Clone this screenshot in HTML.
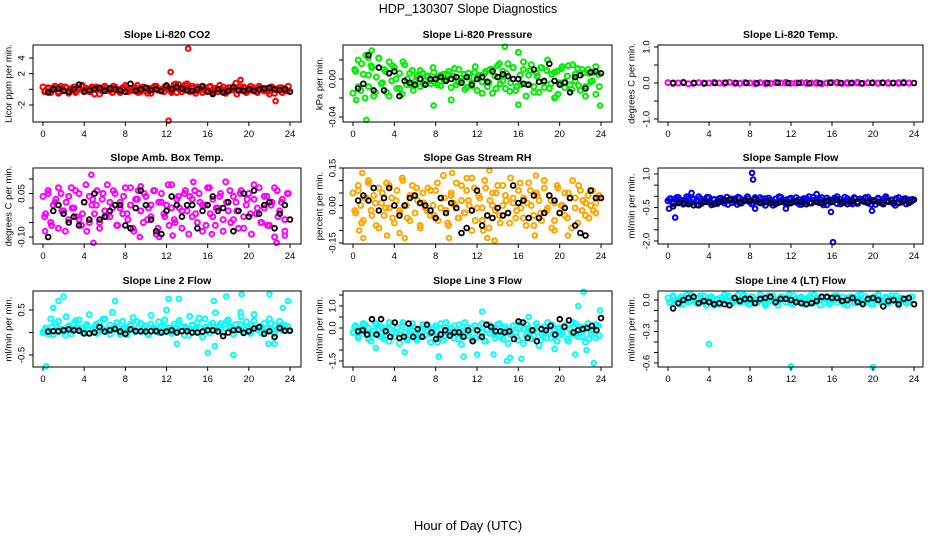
<!DOCTYPE html>
<html><head><meta charset="utf-8">
<style>
html,body{margin:0;padding:0;background:#fff;}
svg{display:block;font-family:"Liberation Sans",sans-serif;}
</style></head>
<body>
<svg id="fig" width="936" height="540" viewBox="0 0 936 540">
<text x="468" y="13" text-anchor="middle" font-size="12.5">HDP_130307  Slope Diagnostics</text>
<text x="468" y="530" text-anchor="middle" font-size="13">Hour of Day (UTC)</text>
</svg>
<script>
// ---- data (colored = all slopes, second colored set = additional samples, black = selected slopes) ----
const co2Col=[0.3,-0.2,0.1,-0.4,0.2,0.0,-0.3,0.4,-0.1,0.2,-0.5,0.1,0.3,-0.2,0.0,0.4,-0.3,0.1,-0.1,0.3,-0.6,0.2,0.0,-0.2,0.4,-0.1,0.1,-0.4,0.3,0.0,-0.2,0.2,0.5,-0.3,0.1,-0.1,0.2,-0.4,0.0,0.3,-0.2,0.1,-0.5,0.2,0.4,-0.1,0.0,-0.3,0.3,0.1,-0.2,0.6,-0.4,0.0,0.2,-0.1,0.7,-0.3,0.1,-0.2,0.3,0.0,-0.4,0.2,-0.1,0.4,-0.2,0.1,-0.3,0.0,0.3,-0.5,0.2,-0.1,0.1,0.8,-0.2,0.0,0.3,-0.4,0.1,-0.1,0.2,-0.3,0.4,0.0,-0.2,0.1,-0.6,0.3,0.0,-0.1,0.2,-0.4,0.1,-0.2];
const co2Col2=[-0.3,0.2,-0.1,0.4,-0.5,0.1,0.3,-0.2,0.0,-0.4,0.2,0.5,-0.1,-0.3,0.1,0.3,-0.6,0.0,0.2,-0.2,0.4,-0.1,-0.4,0.1,0.3,-0.2,0.0,0.5,-0.3,0.2,-0.5,0.1,0.4,-0.1,-0.2,0.3,0.0,-0.4,0.2,0.6,-0.3,0.1,-0.1,0.4,-0.5,0.2,0.0,-0.2,0.3,-0.4,0.1,0.5,-0.1,-0.3,0.2,0.0,-0.6,0.3,0.1,-0.2,0.4,-0.1,-0.4,0.2,0.0,-0.3,0.3,-0.5,0.1,0.2,-0.2,0.4];
const co2Out=[[12.2,-4],[12.4,2.2],[14.1,5.2],[22.6,-1.5],[19.2,1.2],[13.8,0.6],[12.9,0.7]];
const co2Blk=[-0.4,0.0,0.1,-0.2,-0.3,0.0,0.6,-0.3,-0.1,0.0,0.2,-0.2,0.1,0.0,-0.1,-0.3,0.7,-0.2,0.0,0.2,-0.1,0.0,-0.2,0.5,0.0,0.3,0.1,-0.1,-0.2,0.0,0.4,-0.3,-0.6,0.0,-0.4,-0.2,0.3,-0.1,-0.2,0.0,-0.2,0.0,0.1,0.2,0.0,-0.1,0.0,-0.3];

const presCol=[-15,8,20,-12,5,25,-8,14,-18,2,22,-5,10,-14,18,-2,12,-10,6,-16,15,0,-6,9,-3,4,-8,6,-2,3,-5,12,-4,2,-7,5,-1,8,-22,3,-6,10,-2,5,-9,2,-4,7,-12,4,-3,6,-8,10,-15,3,14,-5,8,-10,16,-4,12,-12,28,-6,10,-18,4,15,-8,6,-14,12,-3,9,-10,5,-20,8,-4,13,-9,3,-6,15,-2,11,-12,6,-8,10,-3,7,-16,5];
const presCol2=[10,-8,16,-20,4,12,-14,22,-4,8,-18,14,0,-10,18,-6,6,-12,2,9,-5,3,-2,7,-6,4,-1,5,-9,11,-3,1,-11,6,-7,13,2,-15,8,-4,10,-10,16,-2,6,-13,12,-8,4,18,-6,9,-14,3,12,-9,20,-5,7,-16,11,-3,14,-11,5,-7,10,-18,6,-2,13,-8];
const presOut=[[1.3,-43],[1.8,30],[7.8,-28],[16,-27],[23.9,-28],[0.3,-22],[14.7,34],[19.6,-19],[1.5,22]];
const presBlk=[-10,-5,25,-12,12,-12,6,8,-18,-2,-4,-6,0,-6,0,0,2,-2,0,2,-4,2,-6,0,2,-3,8,2,5,3,0,0,-5,-6,10,-3,-2,16,-2,-6,-4,-14,2,4,-10,7,8,6];

const tempCol=[0.01,-0.01,0,0.02,-0.02,0,0.01,-0.01,0,0.01,0,-0.01,0.02,0,-0.01,0.01,0,-0.02,0.01,0,-0.01,0.01,0,0.02,-0.01,0,0.01,-0.01,0,0.01,-0.02,0,0.01,0,-0.01,0.01,0,0.02,-0.01,0,0.01,-0.01,0,0.01,0,-0.01,0.02,0];
const tempCol2=[0,0.01,-0.01,0,0.02,0,-0.01,0.01,0,-0.02,0.01,0,0,0.01,-0.01,0,0.02,-0.01,0,0.01,0,-0.01,0.01,0];
const tempOut=[];
const tempBlk=[0,0.01,0,-0.01,0,0.01,0,0,-0.01,0,0.01,0,0,-0.01,0,0.01,0,0,-0.01,0,0.01,0,0,0];

const ambCol=[4,-2,6,-5,1,3,-7,5,-1,2,-4,7,0,-3,5,-6,2,-8,4,1,-2,6,-5,3,-1,8,-3,0,5,-6,2,-2,7,-4,1,-7,3,6,-1,-5,4,0,-3,6,-9,2,5,-2,1,-6,8,-4,3,0,-7,5,-1,4,-3,6,-5,2,-8,1,7,-2,3,-6,0,5,-4,9,-1,-5,4,2,-7,6,-3,1,5,-9,3,-2,7,-5,0,4,-6,2,-10,6,-1,3,-4,5];
const ambCol2=[-3,5,-6,2,7,-1,-8,4,0,6,-4,-2,8,-5,3,1,-7,5,-3,2,6,-6,0,4,-2,7,-8,3,-1,5,-4,1,6,-7,2,-3,8,0,-5,4,-1,6,-9,3,-2,5,1,-6,7,-3,0,4,-8,2,6,-4,-1,5,-7,3,-2,8,0,-5,4,-6,1,7,-3,2,-8,5];
const ambOut=[[0.2,-8],[4.7,11.5],[4.9,-12],[9.4,-10],[11.3,-10],[12.6,-9.5],[16.4,-9],[22.7,-12],[23.5,-9.5],[14.6,9],[9.5,7.5]];
const ambBlk=[-10,-1,1,-2,-5,-3,-6,2,-4,5,-4,-3,-1,1,1,-6,-7,0,6,1,-4,-8,-9,-1,4,1,-3,1,1,-7,-1,1,4,-1,0,2,-8,-1,5,-3,6,-2,1,2,-7,-2,1,-4];

const rhCol=[5,-3,8,0,-6,3,10,-2,4,-8,7,1,-4,9,-1,3,-7,6,-2,11,0,-5,4,8,-3,2,-9,5,-1,7,-4,0,6,-6,3,12,-2,-8,4,1,9,-5,2,-3,6,0,-10,7,-1,3,-6,10,-4,2,5,-2,8,-7,0,4,-3,11,1,-5,6,-1,3,-8,9,0,-4,5,2,-6,7,-2,4,-9,1,8,-3,0,5,-5,3,10,-1,-7,6,2,-4,4,0,-2,1,3];
const rhCol2=[-2,6,-7,3,9,-4,1,-9,5,-1,8,-5,2,-3,10,0,-6,4,7,-8,1,-2,6,-4,9,-1,3,-7,5,0,-5,8,-3,2,11,-6,4,-1,7,-9,0,5,-4,8,2,-7,3,-2,9,-5,1,6,-8,4,-3,10,-1,2,-6,7,0,-4,5,-9,3,8,-2,1,-5,6,-3,4];
const rhOut=[[0.9,13],[0.6,-10],[1.0,-13],[3.3,-12],[4.5,-11],[5,-13],[9.3,-13],[9.6,13],[11,11],[13.2,14],[13.7,-14],[13,-13],[12.6,-10],[17.6,-12],[17.7,12],[19.5,-10],[20.8,-12]];
const rhBlk=[2,4,2,7,-2,3,7,0,-4,0,3,4,1,0,-2,-5,3,-3,1,-1,-11,-9,-2,6,-8,-4,-5,-1,-4,-3,8,1,2,-5,4,-5,-3,4,2,-3,-1,3,-8,-11,-12,6,3,3];

const sfCol=[-20,-10,-30,-15,-5,-25,-35,-18,-8,-28,-12,-22,-2,-32,-16,-24,-6,-38,-14,-26,-10,-20,-30,-4,-18,-28,-12,-36,-8,-22,-16,-2,-26,-34,-14,-20,-6,-30,-10,-24,-18,-40,-12,-28,-4,-22,-16,-32,-8,-20,-26,-14,-36,-10,-24,-2,-30,-18,-12,-28,-6,-22,-38,-16,-20,-8,-32,-14,-26,-4,-24,-18,-34,-10,-28,-12,-20,-6,-30,-16,-22,-36,-8,-26,-14,-2,-24,-18,-32,-10,-28,-20,-12,-34,-16,-22];
const sfCol2=[-12,-34,-6,-26,-18,-2,-30,-14,-38,-10,-22,-4,-28,-16,-32,-8,-20,-36,-12,-24,-4,-30,-18,-10,-34,-6,-26,-14,-40,-8,-20,-28,-2,-16,-32,-12,-24,-6,-36,-18,-10,-30,-4,-22,-14,-38,-8,-26,-16,-2,-34,-20,-10,-28,-6,-32,-14,-24,-4,-36,-18,-12,-30,-8,-22,-16,-40,-6,-26,-10,-20,-14];
const sfOut=[[0.1,-55],[0.7,-95],[8.2,105],[8.3,75],[15.9,-70],[16.1,-205],[19.9,-65],[2.3,15],[14.5,10],[8.5,-55],[11.5,-55]];
const sfBlk=[-45,-30,-30,-35,-40,-40,-25,-25,-35,-25,-15,-15,-15,-30,-20,-20,-15,-30,-25,-30,-35,-25,-30,-30,-20,-25,-35,-30,-25,-30,-20,-25,-15,-30,-35,-20,-25,-20,-25,-20,-25,-35,-20,-30,-30,-20,-30,-15];

const l2Col=[0,10,5,30,-5,15,25,8,2,35,12,-3,20,6,28,10,0,18,40,4,14,-2,22,9,30,3,16,45,7,12,-4,25,11,5,18,33,2,10,20,6,15,-5,38,12,8,24,3,14,50,10,0,19,6,27,13,-6,9,36,15,4,22,10,-10,30,8,16,3,44,12,20,0,8,28,14,-3,18,6,35,10,24,2,15,40,7,12,-2,20,9,30,4,16,8,25,11,5,14];
const l2Col2=[5,-3,12,20,2,8,-6,15,4,26,10,0,14,-2,9,18,3,30,6,-4,12,22,1,10,-5,16,7,24,2,11,-3,19,8,0,14,28,5,-2,10,20,4,13,-6,17,9,32,1,12,-1,21,6,15,0,24,10,-4,8,18,3,12,-2,26,7,14,1,9,20,-3,11,6,16,4];
const l2Out=[[0.3,-75],[1.5,70],[2,80],[1,55],[7,70],[12.2,75],[13.2,75],[16,-45],[16.6,70],[17.8,80],[18.5,-50],[19.3,85],[22,85],[23.8,70],[13,-25],[16.7,-30],[21.9,-25],[22.5,-25],[19.2,45],[23.3,55]];
const l2Blk=[2,3,3,5,7,5,4,-2,-2,0,12,2,5,8,2,-3,7,3,3,2,3,3,0,2,5,0,3,3,0,0,2,5,5,2,-8,0,5,6,-1,3,9,12,-3,3,-10,10,4,4];

const l3Col=[-20,10,-45,-5,20,-30,0,-60,-15,15,-35,5,-50,-10,25,-25,-40,0,-70,10,-20,-55,-5,20,-30,-45,-10,15,-35,5,-65,-20,10,-40,-5,-55,25,-25,0,-45,-15,15,-75,-30,5,-20,-50,10,-10,-35,20,-60,-5,-25,0,-45,15,-40,-15,5,-70,-30,10,-20,-55,25,-5,-35,0,-50,-10,20,-80,-25,5,-45,-15,15,-35,-60,0,-20,10,-50,-5,25,-30,-40,5,-15,-65,20,-25,-5,-45,10];
const l3Col2=[5,-35,-10,15,-50,-25,20,-5,-40,0,-60,10,-20,-30,25,-45,-15,5,-55,-35,15,-10,-25,0,-65,20,-40,-5,-30,10,-50,-15,25,-35,0,-45,5,-20,-60,15,-10,-30,20,-50,-5,-25,10,-40,0,-70,15,-15,-35,5,-55,-20,25,-45,-10,0,-30,10,-60,-25,20,-5,-40,5,-50,-15,15,-35];
const l3Out=[[2.2,-90],[5,-110],[10.7,-130],[12,-120],[14.9,-150],[15.2,-135],[16.3,-140],[17,50],[19.5,-95],[21.5,-120],[21.8,100],[22.3,165],[23.3,-160],[23.9,80],[12.5,75],[22.6,-100],[8.3,-130],[13.6,-120]];
const l3Blk=[-15,-10,-30,40,-30,40,-15,-40,25,-45,-40,20,-40,-5,-40,15,-20,-50,-30,-10,-35,-20,-20,-40,-10,-60,-10,-40,15,5,-15,-15,-20,-15,-50,30,25,-45,-10,-60,-5,-10,10,-30,40,5,35,-20,-10,-5,0,10,-10,45];

const l4Col=[2,-3,4,-1,0,3,-4,1,-2,5,0,-3,2,-1,4,-5,1,3,-2,0,-4,2,5,-1,3,-3,0,1,-2,4,-1,2,-4,3,0,-2,5,1,-3,2,-1,4,0,-5,3,1,-2,2,-3,4,0,-1,3,-4,1,2,-2,5,-1,0,3,-3,2,-4,1,4,-2,0,3,-1,-5,2,1,-3,4,0,-2,3,-1,2,-4,1,5,-2,0,3,-3,1,-1,4,-2,2,0,-3,1,3];
const l4Col2=[-2,3,0,-4,2,5,-1,1,-3,4,-2,0,3,-5,1,2,-1,4,-3,0,5,-2,1,-4,3,0,-1,2,-5,4,1,-3,0,3,-2,5,-4,1,2,-1,0,4,-3,2,-5,1,3,-2,0,4,-1,-4,2,3,-3,1,5,-2,0,-4,3,1,-1,2,-3,4,0,-5,2,1,-2,3];
const l4Out=[[4,-42],[12,-63],[20,-64],[7.4,5]];
const l4Blk=[-8,-3,0,2,3,-3,-1,-2,-4,-3,-4,-5,2,-1,1,1,-3,1,2,3,-2,1,1,0,-2,-3,-4,-3,-1,3,3,2,2,-1,0,2,-2,-4,1,2,0,-6,-1,0,-4,1,2,-4];

const xTicks=[0,4,8,12,16,20,24];
const co2Ticks=[-2,0,2,4], co2Labels=["-2","","2","4"];
const presTicks=[-0.04,-0.02,0,0.02], presLabels=["-0.04","","0.00",""];
const tempTicks=[-1,-0.5,0,0.5,1], tempLabels=["-1.0","","0.0","","1.0"];
const ambTicks=[-0.1,-0.05,0,0.05,0.1], ambLabels=["-0.10","","","0.05",""];
const rhTicks=[-0.15,-0.1,-0.05,0,0.05,0.1,0.15], rhLabels=["-0.15","","","0.00","","","0.15"];
const sfTicks=[-2,-1.5,-1,-0.5,0,0.5,1], sfLabels=["-2.0","","","-0.5","","","1.0"];
const l2Ticks=[-0.5,0,0.5], l2Labels=["-0.5","","0.5"];
const l3Ticks=[-1.5,-1,-0.5,0,0.5,1,1.5], l3Labels=["-1.5","","","0.0","","1.0",""];
const l4Ticks=[0,-0.1,-0.2,-0.3,-0.4,-0.5,-0.6], l4Labels=["0.0","","","-0.3","","","-0.6"];

// ---- layout ----
const cols=[{l:33,r:301,x0:43,x24:290,ty:9,tl:22},{l:343,r:612,x0:353,x24:601,ty:320,tl:333},{l:658,r:923,x0:668,x24:914,ty:632,tl:647}];
const rows=[{t:45,b:122,ti:38},{t:168,b:244,ti:161},{t:291,b:367,ti:284}];
const panels=[
 {name:"co2",title:"Slope Li-820 CO2",ylab:"Licor ppm per min.",c:0,r:0,col:"#ff0000",sc:1,cv:co2Col,cv2:co2Col2,ov:co2Out,kv:co2Blk,tk:co2Ticks,tl:co2Labels,a:[-2,105],b:[4,58]},
 {name:"pressure",title:"Slope Li-820 Pressure",ylab:"kPa per min.",c:1,r:0,col:"#00ee00",sc:0.001,cv:presCol,cv2:presCol2,ov:presOut,kv:presBlk,tk:presTicks,tl:presLabels,a:[0,79],b:[-0.04,117]},
 {name:"temp",title:"Slope Li-820 Temp.",ylab:"degrees C per min.",c:2,r:0,col:"#ff00ff",sc:1,cv:tempCol,cv2:tempCol2,ov:tempOut,kv:tempBlk,tk:tempTicks,tl:tempLabels,a:[1,47],b:[-1,119]},
 {name:"amb-temp",title:"Slope Amb. Box Temp.",ylab:"degrees C per min.",c:0,r:1,col:"#ff00ff",sc:0.01,cv:ambCol,cv2:ambCol2,ov:ambOut,kv:ambBlk,tk:ambTicks,tl:ambLabels,a:[0,208],b:[-0.1,237]},
 {name:"gas-rh",title:"Slope Gas Stream RH",ylab:"percent per min.",c:1,r:1,col:"#ffa500",sc:0.01,cv:rhCol,cv2:rhCol2,ov:rhOut,kv:rhBlk,tk:rhTicks,tl:rhLabels,a:[0.15,168],b:[-0.15,243]},
 {name:"sample-flow",title:"Slope Sample Flow",ylab:"ml/min per min.",c:2,r:1,col:"#0000ff",sc:0.01,cv:sfCol,cv2:sfCol2,ov:sfOut,kv:sfBlk,tk:sfTicks,tl:sfLabels,a:[1,174],b:[-2,241]},
 {name:"line2-flow",title:"Slope Line 2 Flow",ylab:"ml/min per min.",c:0,r:2,col:"#00ffff",sc:0.01,cv:l2Col,cv2:l2Col2,ov:l2Out,kv:l2Blk,tk:l2Ticks,tl:l2Labels,a:[0.5,310],b:[-0.5,355]},
 {name:"line3-flow",title:"Slope Line 3 Flow",ylab:"ml/min per min.",c:1,r:2,col:"#00ffff",sc:0.01,cv:l3Col,cv2:l3Col2,ov:l3Out,kv:l3Blk,tk:l3Ticks,tl:l3Labels,a:[1,306],b:[-1.5,361]},
 {name:"line4-flow",title:"Slope Line 4 (LT) Flow",ylab:"ml/min per min.",c:2,r:2,col:"#00ffff",sc:0.01,cv:l4Col,cv2:l4Col2,ov:l4Out,kv:l4Blk,tk:l4Ticks,tl:l4Labels,a:[0,300],b:[-0.6,363]}
];
const NS="http://www.w3.org/2000/svg";
const svg=document.getElementById('fig');
function mk(tag,attrs,parent){const e=document.createElementNS(NS,tag);for(const k in attrs)e.setAttribute(k,attrs[k]);(parent||svg).appendChild(e);return e;}

panels.forEach(p=>{
 const C=cols[p.c],R=rows[p.r];
 const g=mk('g',{});
 
 
 const xs=h=>C.x0+(C.x24-C.x0)*h/24;
 const ys=v=>p.a[1]+(v-p.a[0])*(p.b[1]-p.a[1])/(p.b[0]-p.a[0]);
 const clip=v=>Math.max(R.t,Math.min(R.b,v));
 const t=mk('text',{x:(C.l+C.r)/2,y:R.ti,'text-anchor':'middle','font-size':10.5,'font-weight':'bold'},g);
 t.textContent=p.title;
 
 
 const yl=mk('text',{x:C.ty,y:(R.t+R.b)/2,'text-anchor':'middle','font-size':9.5,transform:`rotate(-90 ${C.ty} ${(R.t+R.b)/2})`,'dominant-baseline':'central'},g);
 yl.textContent=p.ylab;
 
 
 const pts=mk('g',{fill:'none',stroke:p.col,'stroke-width':2},g);
 
 
 const n=p.cv.length;
 p.cv.forEach((v,i)=>{
  const c=mk('circle',{cx:xs(i*24/n),cy:clip(ys(v*p.sc)),r:2.5},pts);
  
  
 });
 const n2=p.cv2.length;
 p.cv2.forEach((v,i)=>{
  const c=mk('circle',{cx:xs((i+0.5)*24/n2),cy:clip(ys(v*p.sc)),r:2.5},pts);
  
  
 });
 p.ov.forEach(o=>{
  const c=mk('circle',{cx:xs(o[0]),cy:clip(ys(o[1]*p.sc)),r:2.3},pts);
  
  
 });
 const kp=mk('g',{fill:'none',stroke:'#000','stroke-width':1.8},g);
 
 
 const m=p.kv.length;
 p.kv.forEach((v,i)=>{
  const c=mk('circle',{cx:xs(0.5+i*23.5/(m-1)),cy:clip(ys(v*p.sc)),r:2.4},kp);
  
  
 });
 const bx=mk('rect',{x:C.l,y:R.t,width:C.r-C.l,height:R.b-R.t,fill:'none',stroke:'#000','stroke-width':1},g);
 
 
 const xa=mk('g',{},g);
 
 
 xTicks.forEach(h=>{
  mk('line',{x1:xs(h),x2:xs(h),y1:R.b,y2:R.b+4,stroke:'#000'},xa);
  const tl=mk('text',{x:xs(h),y:R.b+15,'text-anchor':'middle','font-size':9.5},xa);
  tl.textContent=String(h);
 });
 const ya=mk('g',{},g);
 
 
 p.tk.forEach((v,i)=>{
  const y=ys(v); if(y<R.t-2||y>R.b+2) return;
  mk('line',{x1:C.l-4,x2:C.l,y1:y,y2:y,stroke:'#000'},ya);
  if(p.tl[i]){
   const tl=mk('text',{x:C.tl,y:y,'text-anchor':'middle','font-size':9.5,'dominant-baseline':'central',transform:`rotate(-90 ${C.tl} ${y})`},ya);
   tl.textContent=p.tl[i];
  }
 });
});
</script>
</body></html>
